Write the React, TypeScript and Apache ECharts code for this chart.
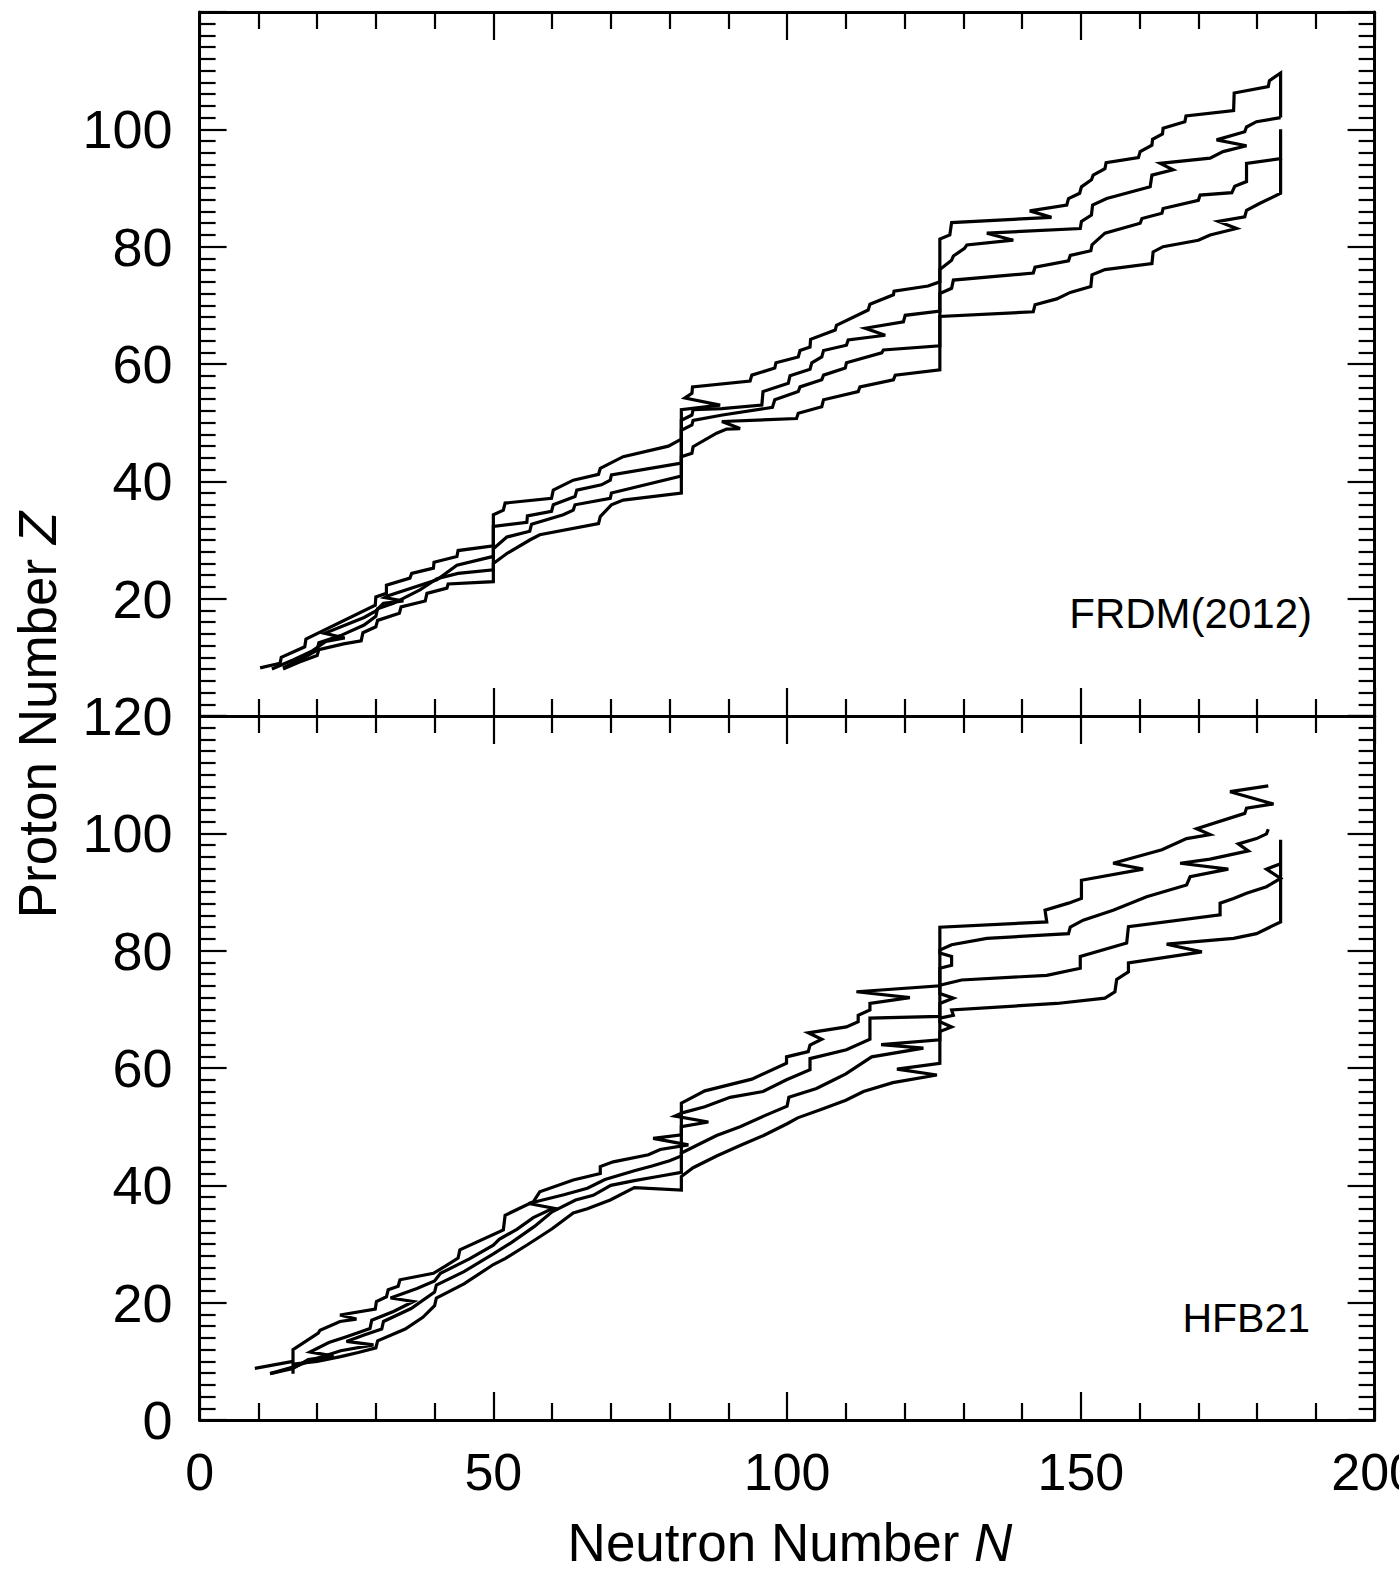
import React, { useEffect, useRef } from "react";
import * as echarts from "echarts";

// Tick values
const X_TICKS = [0, 50, 100, 150, 200];
const Y_TICKS = [0, 20, 40, 60, 80, 100, 120];

// ---------- FRDM(2012) panel: paths [N, Z] ----------
const FRDM_A = [
  [10.3, 8.2], [13.7, 9.0], [13.9, 10.0], [17.9, 11.8], [18.1, 13.1], [29.9, 18.9], [30.0, 20.3], [31.8, 20.9],
  [31.8, 22.3], [35.8, 23.5], [36.1, 24.3], [39.8, 25.2], [39.9, 26.2], [43.8, 27.2], [44.0, 28.2], [50, 29.0],
  [50, 34.3], [51.7, 35.1], [52.0, 36.3], [59.9, 37.1], [60.2, 38.5], [63.6, 40.2], [67.9, 41.2], [68.2, 42.2],
  [72.1, 44.2], [79.8, 46.0], [82, 47.2], [82, 52.2], [88.6, 53.0], [82.6, 54.2], [83.8, 55.0], [83.9, 56.1],
  [93.7, 57.1], [94.0, 58.1], [97.9, 59.3], [98.1, 60.2], [101.9, 61.2], [102.2, 62.3], [103.9, 62.9], [104.0, 64.2],
  [108.2, 65.8], [108.4, 66.6], [113.8, 69.2], [114.1, 70.2], [118.1, 71.8], [118.2, 72.4], [124.0, 73.3], [126, 74.0],
  [126, 81.3], [127.7, 82.0], [128.0, 84.1], [145.0, 85.0], [141.3, 86.1], [147.6, 87.1], [147.9, 88.2], [149.8, 89.1],
  [150.1, 90.2], [151.8, 91.4], [152.1, 92.2], [154.1, 93.3], [154.3, 94.3], [159.8, 95.2], [160.1, 96.2], [162.1, 97.3],
  [162.2, 98.3], [163.9, 99.2], [164.0, 100.2], [167.7, 101.3], [167.9, 102.3], [176.0, 103.2], [176.1, 106.2],
  [181.9, 107.3], [182.1, 108.3], [184, 109.6], [184, 102.0],
];
const FRDM_B = [
  [12.3, 8.0], [16, 9.6], [19, 11], [21.5, 12.7], [24.7, 13.3], [21.3, 14.1], [28, 16.8], [30, 17.9], [31.3, 19.2],
  [34.7, 19.6], [31.5, 20.2], [32.1, 20.5], [40.4, 23.2], [43.8, 25.7], [50, 27.2], [50, 32.3], [55.7, 33], [55.8, 34.1],
  [59.9, 34.9], [60.2, 36], [63.9, 37.4], [64.2, 38.5], [68.4, 39.4], [69.9, 40.2], [70.1, 41.1], [82, 43.1], [82, 50.4],
  [83.8, 51.3], [84, 52.2], [88.9, 52.4], [95.7, 53.0], [95.9, 55.3], [100.2, 56.7], [100.5, 58], [103.9, 59.1],
  [104.2, 60.2], [105.9, 61.2], [106.2, 62.3], [110.1, 63.2], [110.4, 64.1], [116.7, 64.9], [113.3, 66.1], [119.8, 67.2],
  [120.1, 68.3], [126, 69.0], [126, 76.1], [128, 77.7], [128.3, 78.4], [130.2, 79.7], [130.6, 80.3], [138.5, 81.1],
  [134.0, 82.3], [149.9, 83.1], [150.1, 84.3], [151.8, 85.4], [152.0, 87.1], [154.4, 88.2], [161.8, 90.2], [162.1, 92.2],
  [165.7, 93.1], [163.5, 94.2], [172.0, 95.1], [174.2, 96.2], [178.2, 97.2], [173.1, 98.2], [177.9, 99.6], [178.2, 100.4],
  [179.9, 101.3], [184, 102.0],
];
const FRDM_C = [
  [14.2, 8.2], [17.5, 9.8], [20, 11.2], [20.3, 12.5], [24, 13.7], [28, 15.5], [30, 17], [30.3, 18.3], [33, 19.2],
  [37.5, 21.5], [40.4, 23.4], [44, 24.3], [50, 24.9], [50, 28.5], [52.3, 30.5], [56.2, 31.5], [56.5, 32.7], [61.9, 34.3],
  [63.6, 35.1], [63.9, 36], [69.9, 37.1], [70.1, 38], [82, 40.9], [82, 48.7], [83.8, 49.6], [84, 50.4], [89, 51.3],
  [97.5, 52.6], [97.9, 53.9], [101.9, 55.3], [102.2, 56.1], [105.9, 57.3], [106.2, 58.1], [109.9, 59.3], [110.1, 60.2],
  [116.1, 61.9], [116.4, 62.4], [126, 63.1], [126, 72], [128, 72.9], [128.3, 74.3], [141.9, 75.5], [142.2, 76.5],
  [147.9, 77.6], [148.2, 78.5], [151.7, 79.3], [151.9, 80.3], [154.1, 82.3], [160.1, 84], [160.4, 84.8], [163.8, 85.7],
  [164, 86.5], [170, 87.9], [170.3, 88.8], [175.7, 89.2], [176.2, 90.3], [178.2, 91.1], [178.2, 94.2], [184, 95], [184, 100],
];
const FRDM_D = [
  [14.2, 8.0], [17, 9.2], [20, 10.3], [20.3, 11.3], [24.5, 12.3], [27.5, 12.8], [27.8, 14.2], [30, 15.2], [30.3, 16.3],
  [34, 17.5], [34.3, 18.6], [38.4, 19.6], [38.7, 20.9], [42.1, 21.8], [42.3, 22.5], [50, 22.9], [50, 26], [52.3, 27.7],
  [56.2, 30], [57.9, 30.9], [67.9, 32.8], [68.2, 34], [70.1, 36], [72.1, 36.8], [82, 38], [82, 44.2], [83.8, 44.8],
  [84, 45.9], [88, 48.2], [89.7, 48.9], [92, 49.0], [88.9, 50.2], [101.6, 50.7], [101.9, 51.6], [105.9, 52.7],
  [106.2, 53.9], [112.1, 55.3], [112.4, 56.1], [118.1, 57.3], [118.4, 58.1], [126, 59.0], [126, 68.1], [141.9, 68.9],
  [142.2, 70.1], [145.9, 71.1], [148.2, 72.2], [151.7, 73.2], [151.9, 75.2], [154.1, 76.1], [162.1, 77.1], [162.3, 79.1],
  [164, 80], [170, 81.1], [172, 82], [176.5, 83.1], [173.4, 84.3], [177.9, 85.1], [178.2, 86.2], [180.5, 87.4],
  [184, 89.1], [184, 95],
];

// ---------- HFB21 panel: paths [N, Z] ----------
const HFB_A = [
  [9.4, 8.8], [15.9, 10.0], [15.9, 12.0], [20.2, 14.8], [20.5, 15.3], [23.9, 16.8], [26.7, 17.2], [23.9, 17.9],
  [29.9, 18.9], [30.1, 20.2], [31.8, 21.0], [32.1, 22.2], [33.8, 22.8], [34.1, 23.9], [39.8, 25.0], [42.1, 26.4],
  [44.0, 27.6], [44.3, 29], [51.7, 32.4], [52.0, 34.9], [56.8, 37.2], [57.9, 38.9], [63.6, 40.9], [68.2, 42.0],
  [68.2, 43.2], [70.4, 44], [76.4, 45.2], [78.4, 46.1], [83.2, 46.9], [77.2, 48], [82, 48.6], [82, 54.0], [86.0, 56.1],
  [94.0, 58.1], [99.9, 60.8], [99.9, 61.9], [103.6, 62.8], [103.9, 63.9], [105.9, 64.9], [103.6, 66.0], [110.1, 67.0],
  [112.1, 67.9], [112.1, 69], [114.1, 69.9], [114.1, 71], [120.9, 72.0], [111.8, 73.0], [126, 74.0], [126, 84.0],
  [144.2, 84.9], [143.9, 86.9], [147.9, 88.1], [150.1, 88.9], [150.1, 92.0], [160.6, 93.9], [155.5, 94.9],
  [163.8, 97.2], [168, 99.1], [172, 99.8], [169.7, 100.8], [177.9, 103.4], [178.2, 104.3], [182.8, 105.0],
  [175.4, 107.1], [181.9, 108.1],
];
const HFB_B = [
  [12, 7.9], [15.9, 8.8], [18.5, 10.3], [22.8, 10.9], [18.8, 11.6], [22, 13.2], [25, 14.2], [29, 15.6], [29.3, 17],
  [33, 18.5], [36.4, 20.2], [32.5, 20.8], [37, 22.4], [40, 23.7], [41, 25], [46, 27.5], [50, 29.8], [51, 30.8],
  [54, 32.5], [56.8, 34.5], [60.2, 36.1], [56, 36.9], [62, 38.4], [66, 39.5], [69, 41], [74, 42.5], [77, 43.3],
  [80, 44.2], [82, 45], [82, 50.0], [86.6, 50.8], [80.9, 51.8], [82.3, 52.4], [86, 53.4], [90.3, 55.0], [95.9, 56.0],
  [99.9, 58.0], [103.9, 59.7], [103.9, 61.6], [110.1, 63.1], [114.1, 64.9], [114.1, 68.5], [126, 68.8], [126, 77],
  [128, 77.5], [128, 79], [126, 79.6], [126, 80.1], [128, 81], [134, 82.1], [147.9, 82.9], [148.2, 84], [150.4, 85.2],
  [155.5, 86.9], [161.2, 89.2], [168, 91.2], [168.6, 92.6], [175.1, 93.9], [166.9, 94.9], [172, 95.6], [178.5, 97.0],
  [176.8, 98.2], [179.9, 99.1], [181.6, 99.9], [181.9, 100.7],
];
const HFB_C = [
  [12, 7.9], [16.5, 9.2], [19.9, 10.5], [24, 11.8], [29.6, 12.8], [25, 13.4], [28, 14.5], [31, 15.5], [31.3, 16.8],
  [36, 19], [40, 21.8], [40.3, 23], [45, 25.3], [50, 28.3], [53, 30.2], [57, 33], [60, 35.5], [64, 37.5], [67, 38.3],
  [70, 40], [74, 40.8], [78, 41.5], [82, 42.2], [82, 45.5], [85, 47], [88, 48.5], [92, 50], [96, 51.8], [100, 53.5],
  [100.3, 55], [105, 56.5], [108, 58], [110, 59], [114.4, 61.9], [123.2, 63.4], [116, 64], [126, 64.8], [126, 71],
  [128.3, 71.9], [126, 72.7], [126, 74.1], [129.7, 75], [144.2, 75.8], [149.9, 77], [149.9, 79], [157.8, 81.3],
  [158.1, 84.1], [173.7, 86.1], [173.7, 88.1], [176, 88.9], [178.2, 89.8], [181.6, 90.9], [184, 92.3], [181.6, 93.9],
  [184, 94.8],
];
const HFB_D = [
  [15.9, 7.9], [15.9, 9.5], [20, 10], [24, 10.8], [27, 11.5], [30, 12.3], [30.3, 13.5], [35, 15.5], [38, 17.5],
  [40, 19.5], [40.3, 20.8], [45, 23.2], [50, 26.5], [52, 27.5], [56, 30], [60, 32.6], [63.6, 35.3], [66, 36],
  [69.9, 37.5], [74, 39.6], [82, 39.2], [82, 41.5], [84, 43], [88, 45], [92, 46.8], [96, 48.5], [100, 50.5],
  [101.8, 51.5], [106, 53], [110, 54.5], [113, 56], [118, 57.5], [125.5, 58.8], [118.7, 59.8], [126, 60.8], [126, 66.2],
  [128, 67], [126, 67.9], [126, 68.5], [128.3, 69], [128, 69.9], [145.9, 71], [154.1, 71.9], [155.8, 73], [156.1, 75.1],
  [158.1, 76.4], [158.1, 77.9], [170.6, 79.8], [164.6, 81.1], [176, 82.1], [179.9, 82.9], [184, 84.9], [184, 98.9],
];

const PANEL_LABELS = ["FRDM(2012)", "HFB21"];
const FONT = "'Liberation Sans', Arial, Helvetica, sans-serif";

export default function App() {
  const ref = useRef<HTMLDivElement>(null);

  useEffect(() => {
    if (!ref.current) return;
    const chart = echarts.init(ref.current, null, { renderer: "svg" });

    const L = 199.6;
    const W = 1175;
    const H = 704;
    const tops = [12, 716];

    const black = "#000";
    const xAxisBase = (gridIndex: number, position: string, showLabel: boolean) => ({
      type: "value",
      gridIndex,
      position,
      min: X_TICKS[0],
      max: X_TICKS[X_TICKS.length - 1],
      interval: X_TICKS[1] - X_TICKS[0],
      axisLine: { show: true, onZero: false, lineStyle: { color: black, width: 3 } },
      axisTick: { show: true, inside: true, length: 28, lineStyle: { color: black, width: 2.2 } },
      minorTick: { show: true, splitNumber: 5, length: 17, lineStyle: { color: black, width: 2.2 } },
      splitLine: { show: false },
      minorSplitLine: { show: false },
      axisLabel: {
        show: showLabel,
        margin: 26,
        fontFamily: FONT,
        fontSize: 52,
        color: black,
      },
    });
    const yAxisBase = (gridIndex: number, position: string, showLabel: boolean, hideEnds: boolean) => ({
      type: "value",
      gridIndex,
      position,
      min: Y_TICKS[0],
      max: Y_TICKS[Y_TICKS.length - 1],
      interval: Y_TICKS[1] - Y_TICKS[0],
      axisLine: { show: true, onZero: false, lineStyle: { color: black, width: 3 } },
      axisTick: { show: true, inside: true, length: 27, lineStyle: { color: black, width: 2.2 } },
      minorTick: { show: true, splitNumber: 10, length: 16, lineStyle: { color: black, width: 2.2 } },
      splitLine: { show: false },
      minorSplitLine: { show: false },
      axisLabel: {
        show: showLabel,
        margin: 27,
        fontFamily: FONT,
        fontSize: 54,
        color: black,
        formatter: (v: number) =>
          hideEnds && (v === Y_TICKS[0] || v === Y_TICKS[Y_TICKS.length - 1]) ? "" : String(v),
      },
    });

    const lineSeries = (data: number[][], gi: number) => ({
      type: "line",
      xAxisIndex: gi * 2,
      yAxisIndex: gi * 2,
      data,
      showSymbol: false,
      symbol: "none",
      smooth: false,
      lineStyle: { color: black, width: 3.2, join: "miter" },
      silent: true,
      z: 3,
    });

    const option = {
      animation: false,
      backgroundColor: "#fff",
      grid: tops.map((t) => ({
        left: L,
        top: t,
        width: W,
        height: H,
        containLabel: false,
        outerBoundsMode: "none",
        show: false,
      })),
      xAxis: [
        xAxisBase(0, "bottom", false),
        xAxisBase(0, "top", false),
        xAxisBase(1, "bottom", true),
        xAxisBase(1, "top", false),
      ],
      yAxis: [
        yAxisBase(0, "left", true, true),
        yAxisBase(0, "right", false, false),
        yAxisBase(1, "left", true, false),
        yAxisBase(1, "right", false, false),
      ],
      series: [
        lineSeries(FRDM_A, 0),
        lineSeries(FRDM_B, 0),
        lineSeries(FRDM_C, 0),
        lineSeries(FRDM_D, 0),
        lineSeries(HFB_A, 1),
        lineSeries(HFB_B, 1),
        lineSeries(HFB_C, 1),
        lineSeries(HFB_D, 1),
      ],
      graphic: [
        {
          type: "text",
          x: 1312,
          y: 613,
          style: {
            text: PANEL_LABELS[0],
            font: `42px ${FONT}`,
            fill: black,
            align: "right",
            verticalAlign: "middle",
            textAlign: "right",
            textVerticalAlign: "middle",
          },
        },
        {
          type: "text",
          x: 1310,
          y: 1318,
          style: {
            text: PANEL_LABELS[1],
            font: `41px ${FONT}`,
            fill: black,
            align: "right",
            verticalAlign: "middle",
            textAlign: "right",
            textVerticalAlign: "middle",
          },
        },
        {
          type: "text",
          x: 790,
          y: 1542,
          style: {
            text: "{a|Neutron Number }{b|N}",
            rich: {
              a: { fontFamily: FONT, fontSize: 53, lineHeight: 52, fill: black, color: black },
              b: { fontFamily: FONT, fontSize: 53, lineHeight: 52, fontStyle: "italic", fill: black, color: black },
            },
            align: "center",
            verticalAlign: "middle",
            textAlign: "center",
            textVerticalAlign: "middle",
          },
        },
        {
          type: "text",
          x: 37,
          y: 715,
          rotation: Math.PI / 2,
          style: {
            text: "{a|Proton Number }{b|Z}",
            rich: {
              a: { fontFamily: FONT, fontSize: 53, fill: black, color: black },
              b: { fontFamily: FONT, fontSize: 53, fontStyle: "italic", fill: black, color: black },
            },
            align: "center",
            verticalAlign: "middle",
            textAlign: "center",
            textVerticalAlign: "middle",
          },
        },
      ],
    };

    chart.setOption(option as any);
    return () => chart.dispose();
  }, []);

  return (
    <div
      ref={ref}
      style={{ position: "absolute", left: 0, top: 0, width: 1399, height: 1570, background: "#fff" }}
    />
  );
}
